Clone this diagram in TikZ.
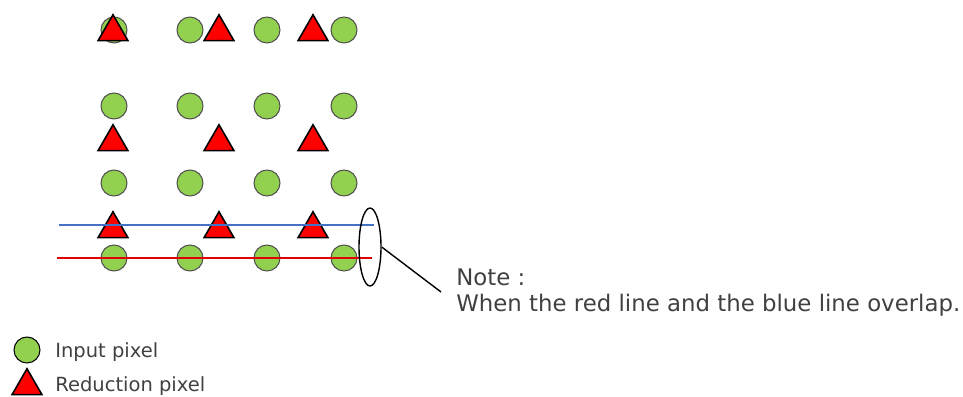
\documentclass[tikz,border=0pt]{standalone}
\usepackage{fontspec}
\setmainfont{DejaVu Sans}
\usetikzlibrary{shapes.geometric}
\definecolor{pixgreen}{HTML}{92D050}
\definecolor{pixedge}{HTML}{505050}
\definecolor{bluel}{HTML}{4472C4}
\definecolor{redl}{HTML}{E00000}
\definecolor{txt}{HTML}{404040}
\begin{document}
\begin{tikzpicture}[x=0.02cm,y=-0.02cm,
  inpix/.style={circle,fill=pixgreen,draw=pixedge,line width=0.6pt,minimum size=0.52cm,inner sep=0pt},
  redpix/.style={regular polygon,regular polygon sides=3,fill=red,draw=black,line width=0.9pt,minimum size=0.69cm,inner sep=0pt},
  notetext/.style={text=txt,font=\fontsize{13}{15}\selectfont,anchor=west,inner sep=0pt},
  legtext/.style={text=txt,font=\fontsize{11.1}{13}\selectfont,anchor=west,inner sep=0pt}]
\useasboundingbox (0,0) rectangle (963,396);
% input pixels
\foreach \r/\y in {1/30,2/106,3/183,4/258}{
  \foreach \c/\x in {1/114,2/190,3/267,4/344}{
    \node[inpix] (c\r\c) at (\x,\y) {};
  }
}
% reduction pixels
\foreach \r/\y in {1/32,2/142,3/229}{
  \foreach \c/\x in {1/113,2/219,3/313}{
    \node[redpix] (t\r\c) at (\x,\y) {};
  }
}
% lines
\coordinate (bl) at (59,225);
\coordinate (br) at (374,225);
\coordinate (rl) at (57,258);
\coordinate (rr) at (372,258);
\draw[bluel,line width=0.8pt] (bl) -- (br);
\draw[redl,line width=0.8pt] (rl) -- (rr);
% ellipse
\node[ellipse,draw=black,line width=0.8pt,minimum width=0.44cm,minimum height=1.56cm,inner sep=0pt] (ell) at (370,247) {};
\coordinate (lead) at (441,292);
\draw[black,line width=0.8pt] (ell.east) -- (lead);
% note
\node[notetext] (note1) at (456,277) {Note :};
\node[notetext] (note2) at (456,305) {When the red line and the blue line overlap.};
% legend
\node[inpix,draw=black] (legc) at (27,350) {};
\node[redpix] (legt) at (27,386) {};
\node[legtext] (legc text) at (55,352) {Input pixel};
\node[legtext] (legt text) at (55,386) {Reduction pixel};
\end{tikzpicture}
\end{document}
